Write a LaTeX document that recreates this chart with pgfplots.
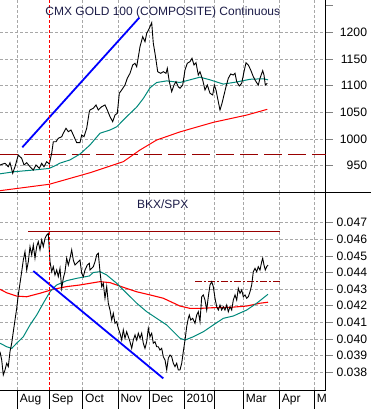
\documentclass[border=0pt]{standalone}
\usepackage{pgfplots}
\pgfplotsset{compat=1.18}
\usepackage{fontspec}
\setmainfont{Liberation Sans}
\definecolor{mateal}{HTML}{00897B}
\definecolor{darkred2}{HTML}{990000}
\definecolor{titlecol}{HTML}{1C1C48}
\definecolor{gridgray}{HTML}{A8A8A8}
\begin{document}
\begin{tikzpicture}
\pgfplotsset{
  panel/.style={
    scale only axis, width=325.6pt, xmin=0, xmax=325.6,
    axis line style={-, line width=0.8pt},
    axis x line*=bottom, axis y line*=right,
    xtick={17.3,49.3,82.7,118,149.3,184,214,243.3,279.3,314.3},
    xtick style={draw=none},
    ytick style={line width=0.8pt},
    ymajorgrids, xmajorgrids,
    major grid style={gridgray, dash pattern=on 3pt off 2pt, line width=0.6pt},
    tick align=outside, major tick length=7pt,
    scaled y ticks=false,
    yticklabel style={font=\fontsize{12.2}{14}\selectfont, anchor=east, xshift=38pt},
    xticklabel style={font=\fontsize{12}{14}\selectfont},
    clip=false,
  }
}
% ---------- top panel: gold ----------
\begin{axis}[panel, at={(0pt,0pt)}, anchor=north west, height=192.7pt,
  ymin=899.6, ymax=1260.5,
  ytick={950,1000,1050,1100,1150,1200},
  yticklabels={950,1000,1050,1100,1150,1200},
  extra y ticks={900,1250}, extra y tick labels={},
  extra y tick style={grid=none},
  xticklabels={}]
\addplot[darkred2, line width=1.3pt, dash pattern=on 18pt off 6pt] coordinates {(0,971.5)(325.6,971.5)};
\addplot[red, line width=1pt] coordinates {(0,903.4)(49.3,915.4)(90,937)(123.3,957.7)(140,979.6)(156.7,998.3)(180,1013.5)(213.3,1031.4)(246.7,1045)(267.3,1055.8)};
\addplot[mateal, line width=1pt] coordinates {(0,935)(15,939)(33,942)(49,945)(55,950)(60,955)(70,961)(80,972)(90,989)(100,1011)(110,1017)(116.7,1023)(126.7,1042)(136.7,1060)(143.3,1076)(150,1096)(156.7,1106)(166.7,1109)(180,1106)(190,1111)(200,1116)(210,1111)(223.3,1103)(236.7,1107)(250,1112)(263.3,1113)(268,1111)};
\addplot[black, line width=0.9pt] coordinates {(0,951.5)(5,954.7)(8.3,948.3)(10,955.8)(12.7,936)(15,948.3)(18.3,970.2)(21.7,964)(24,951.5)(26.7,955.8)(30,948.3)(33.3,942.1)(36,951.5)(39.3,945.3)(41.7,954.7)(44,948.3)(46.7,957.7)(49.3,953.4)(51.7,973.4)(53.3,995.1)(56,995.1)(58.3,1001.5)(61.7,1004.5)(63.3,1010.9)(66,1020.2)(68.3,1013.9)(71,1017)(73.3,1007.7)(76.7,993.3)(80,993.3)(81.7,1007.7)(84,1004.5)(86.7,1020.2)(89.3,1051.3)(90,1054.5)(93.3,1057.7)(96,1063.9)(98.3,1054.5)(101.7,1060.7)(105,1063.9)(107.3,1054.5)(110,1042)(112.7,1032.6)(115,1045.1)(117.3,1048.3)(119.3,1085.8)(121.7,1092)(125,1101.3)(127.3,1113.9)(130,1123.2)(132.7,1138.8)(135,1142)(136.7,1135.6)(140,1173)(142.7,1191.8)(145,1182.4)(146.7,1198.1)(149.3,1207.5)(151.7,1218)(153.3,1179.4)(155,1160.7)(157.7,1126.2)(160.7,1123.2)(163.3,1126.2)(166,1123.2)(167.3,1132.6)(169.3,1107.5)(171.7,1088.8)(174,1101.3)(176,1107.5)(178.3,1098.1)(180,1095.1)(182.7,1101.3)(185,1129.4)(187.3,1142)(190,1145)(192,1151.3)(194,1138.8)(196,1143.1)(198.3,1120)(200,1126.2)(202.7,1110.7)(205,1092)(207.3,1101.3)(210,1085.8)(212.7,1082.6)(214.3,1101.3)(216,1092)(218.3,1070)(220,1054.5)(222,1067)(224,1082.6)(226,1098.1)(228.3,1113.9)(230.7,1121.9)(233.3,1120)(235,1123.2)(236.7,1107.5)(239.3,1099.5)(241.7,1104.5)(244,1126.2)(246,1143.1)(248.3,1138.8)(250.7,1129.4)(253.3,1116.9)(256,1107.5)(258.3,1101.3)(260,1113.9)(262.7,1128.1)(264,1120)(265.3,1101.3)(267.3,1104.5)};
\addplot[blue, line width=1.8pt] coordinates {(22.3,984.6)(139.3,1227.4)};
\addplot[red, line width=0.9pt, dash pattern=on 3pt off 2pt] coordinates {(49.3,899.6)(49.3,1260.5)};
\node[text=titlecol, font=\fontsize{12}{14}\selectfont] at (rel axis cs:0.5,0.934) {CMX GOLD 100 (COMPOSITE) Continuous};
\end{axis}
% ---------- bottom panel: BKX/SPX ----------
\begin{axis}[panel, at={(0pt,-192.7pt)}, anchor=north west, height=197.3pt,
  ymin=0.036922, ymax=0.048808,
  ytick={0.038,0.039,0.040,0.041,0.042,0.043,0.044,0.045,0.046,0.047},
  yticklabels={0.038,0.039,0.040,0.041,0.042,0.043,0.044,0.045,0.046,0.047},
  xticklabels={Aug,Sep,Oct,Nov,Dec,2010,,Mar,Apr,M},
  xticklabel style={anchor=base west, xshift=-1pt, yshift=-5pt}]
\addplot[darkred2, line width=1.1pt] coordinates {(28.3,0.04645)(280,0.04645)};
\addplot[darkred2, line width=0.9pt, dash pattern=on 7pt off 2pt on 2pt off 2pt] coordinates {(195,0.04349)(281.7,0.04349)};
\addplot[red, line width=1.1pt] coordinates {(0,0.04299)(6.7,0.04278)(16.7,0.04258)(26.7,0.04254)(40,0.04275)(53.3,0.04299)(66.7,0.04315)(80,0.04325)(90,0.04335)(100,0.04345)(110,0.04339)(123.3,0.04311)(136.7,0.04284)(150,0.04265)(163.3,0.04245)(180,0.04198)(190,0.04184)(200,0.04184)(213.3,0.04188)(230,0.04190)(246.7,0.04198)(260,0.04215)(268,0.04221)};
\addplot[mateal, line width=1pt] coordinates {(0,0.03974)(6.7,0.03953)(11.7,0.03943)(16.7,0.03974)(23.3,0.04013)(30,0.04084)(36.7,0.04144)(43.3,0.04215)(50,0.04284)(56.7,0.04325)(66.7,0.04351)(76.7,0.04365)(89.3,0.04379)(93.3,0.04400)(100,0.04405)(106.7,0.04385)(116.7,0.04335)(126.7,0.04275)(136.7,0.04215)(146.7,0.04164)(156.7,0.04124)(166.7,0.04084)(175,0.04034)(180,0.04004)(185,0.03993)(193.3,0.04013)(203.3,0.04043)(213.3,0.04084)(223.3,0.04124)(233.3,0.04138)(246.7,0.04174)(256.7,0.04215)(268,0.04269)};
\addplot[black, line width=0.9pt] coordinates {(0,0.03923)(1.7,0.03873)(3.3,0.03783)(5,0.03813)(6.7,0.03853)(8.3,0.03833)(10,0.03923)(11.7,0.03974)(13.3,0.04043)(15,0.04114)(16.7,0.04184)(18.3,0.04265)(20,0.04335)(21.7,0.04405)(23.3,0.04475)(25,0.04525)(26.7,0.04415)(28.3,0.04465)(30,0.04556)(31.7,0.04506)(33.3,0.04566)(35,0.04486)(36.7,0.04556)(38.3,0.04586)(40,0.04536)(41.7,0.04596)(43.3,0.04556)(45,0.04606)(46.7,0.04626)(48.3,0.04636)(50,0.04465)(51.7,0.04405)(53.3,0.04435)(55,0.04385)(56.7,0.04415)(58.3,0.04375)(60,0.04425)(61.7,0.04305)(63.3,0.04365)(65,0.04405)(66.7,0.04486)(68.3,0.04445)(70,0.04486)(71.7,0.04536)(73.3,0.04475)(75,0.04445)(76.7,0.04456)(78.3,0.04465)(80,0.04475)(81.7,0.04395)(83.3,0.04375)(85,0.04415)(87.3,0.04445)(89.3,0.04456)(90,0.04415)(93.3,0.04435)(95,0.04465)(96.7,0.04506)(98.3,0.04516)(100,0.04405)(101.7,0.04315)(103.3,0.04335)(105,0.04245)(106.7,0.04315)(108.3,0.04215)(110,0.04174)(111.7,0.04114)(113.3,0.04154)(115,0.04094)(116.7,0.04104)(118.3,0.04064)(120,0.04034)(121.7,0.03993)(123.3,0.04054)(125,0.04004)(126.7,0.04043)(128.3,0.04013)(130,0.03983)(131.7,0.03943)(133.3,0.03993)(135,0.04024)(136.7,0.03993)(138.3,0.04034)(140,0.04004)(141.7,0.04034)(143.3,0.03974)(145,0.03943)(146.7,0.03983)(148.3,0.04064)(150,0.04013)(151.7,0.04034)(153.3,0.03974)(155,0.03983)(156.7,0.03953)(158.3,0.03953)(160,0.03933)(161.7,0.03943)(163.3,0.03893)(165,0.03873)(166.7,0.03813)(168.3,0.03883)(170,0.03903)(171.7,0.03893)(173.3,0.03853)(175,0.03833)(176.7,0.03853)(178.3,0.03813)(180,0.03813)(181.7,0.03853)(183.3,0.03923)(185,0.03993)(186.7,0.04074)(188.3,0.04124)(189.3,0.04144)(190.7,0.04114)(192.7,0.04124)(195,0.04094)(196.7,0.04144)(198.3,0.04164)(200,0.04104)(201.7,0.04254)(203.3,0.04265)(205,0.04234)(206.7,0.04174)(208.3,0.04254)(210,0.04325)(211.7,0.04345)(213.3,0.04315)(215,0.04245)(216.7,0.04194)(218.3,0.04174)(220,0.04204)(221.7,0.04174)(223.3,0.04194)(225,0.04174)(226.7,0.04204)(228.3,0.04164)(230,0.04194)(231.7,0.04174)(233.3,0.04234)(235,0.04265)(236.7,0.04234)(238.3,0.04305)(240,0.04275)(241.7,0.04295)(243.3,0.04254)(245,0.04265)(246.7,0.04245)(248.3,0.04254)(250,0.04284)(251.7,0.04325)(253.3,0.04405)(255,0.04425)(256.7,0.04405)(258.3,0.04435)(260,0.04415)(261.7,0.04465)(262.7,0.04486)(264,0.04445)(265.3,0.04415)(266.7,0.04435)(268,0.04445)};
\addplot[blue, line width=1.8pt] coordinates {(33.3,0.04409)(163.3,0.03762)};
\addplot[red, line width=0.9pt, dash pattern=on 3pt off 2pt] coordinates {(49.3,0.036922)(49.3,0.048808)};
\node[text=titlecol, font=\fontsize{12}{14}\selectfont] at (rel axis cs:0.5,0.943) {BKX/SPX};
\end{axis}
% panel separator and month separators
\draw[black, line width=0.8pt] (0pt,-192.7pt) -- (371pt,-192.7pt);
\foreach \xx in {17.3,49.3,82.7,118,149.3,184,214,243.3,279.3,314.3}
  \draw[black, line width=0.8pt] (\xx pt,-390pt) -- (\xx pt,-409pt);
\pgfresetboundingbox
\path[use as bounding box] (0pt,0pt) rectangle (371pt,-409pt);
\end{tikzpicture}
\end{document}
